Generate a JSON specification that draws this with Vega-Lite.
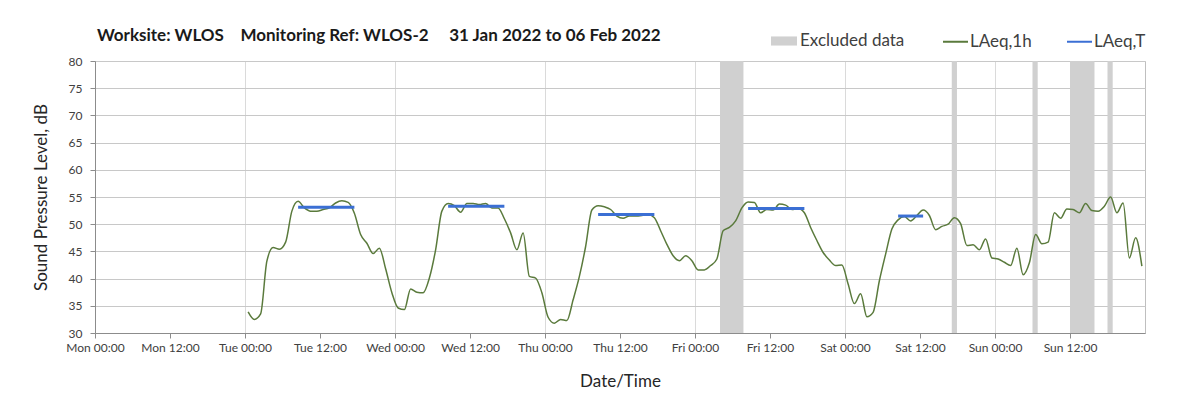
{
  "$schema": "https://vega.github.io/schema/vega-lite/v6.json",
  "width": 1050,
  "height": 272,
  "autosize": {"type": "none"},
  "padding": {"left": 95, "top": 61, "right": 58, "bottom": 72},
  "background": "white",
  "config": {"font": "Lato", "view": {"stroke": "#bfbfbf", "strokeWidth": 1}},
  "title": {
    "text": "Worksite: WLOS\u00a0\u00a0\u00a0\u00a0Monitoring Ref: WLOS-2\u00a0\u00a0\u00a0\u00a0\u00a031 Jan 2022 to 06 Feb 2022",
    "anchor": "start", "frame": "group", "fontSize": 17, "fontWeight": "bold", "font": "Lato", "color": "#1a1a1a", "offset": 14, "dx": 2, "dy": 31
  },
  "datasets": {
    "excluded": [
      {"start": "2022-02-04T04:00", "end": "2022-02-04T07:45"},
      {"start": "2022-02-05T17:05", "end": "2022-02-05T17:55"},
      {"start": "2022-02-06T06:00", "end": "2022-02-06T06:50"},
      {"start": "2022-02-06T12:00", "end": "2022-02-06T15:55"},
      {"start": "2022-02-06T18:00", "end": "2022-02-06T18:50"}
    ],
    "laeqT": [
      {"start": "2022-02-01T08:30", "end": "2022-02-01T17:30", "level": 53.1},
      {"start": "2022-02-02T08:30", "end": "2022-02-02T17:30", "level": 53.3},
      {"start": "2022-02-03T08:30", "end": "2022-02-03T17:30", "level": 51.8},
      {"start": "2022-02-04T08:30", "end": "2022-02-04T17:30", "level": 52.9},
      {"start": "2022-02-05T08:30", "end": "2022-02-05T12:30", "level": 51.5}
    ],
    "hourly": [
      {"t": "2022-02-01T00:30", "v": 33.9}, {"t": "2022-02-01T01:30", "v": 32.5}, {"t": "2022-02-01T02:30", "v": 33.5}, {"t": "2022-02-01T03:30", "v": 43.2},
      {"t": "2022-02-01T04:30", "v": 45.7}, {"t": "2022-02-01T05:30", "v": 45.4}, {"t": "2022-02-01T06:30", "v": 46.7}, {"t": "2022-02-01T07:30", "v": 52.4},
      {"t": "2022-02-01T08:30", "v": 54.2}, {"t": "2022-02-01T09:30", "v": 53.0}, {"t": "2022-02-01T10:30", "v": 52.4}, {"t": "2022-02-01T11:30", "v": 52.4},
      {"t": "2022-02-01T12:30", "v": 52.7}, {"t": "2022-02-01T13:30", "v": 53.0}, {"t": "2022-02-01T14:30", "v": 53.9}, {"t": "2022-02-01T15:30", "v": 54.3},
      {"t": "2022-02-01T16:30", "v": 54.0}, {"t": "2022-02-01T17:30", "v": 52.0}, {"t": "2022-02-01T18:30", "v": 48.1}, {"t": "2022-02-01T19:30", "v": 46.5},
      {"t": "2022-02-01T20:30", "v": 44.6}, {"t": "2022-02-01T21:30", "v": 45.6}, {"t": "2022-02-01T22:30", "v": 41.8}, {"t": "2022-02-01T23:30", "v": 37.4},
      {"t": "2022-02-02T00:30", "v": 34.6}, {"t": "2022-02-02T01:30", "v": 34.3}, {"t": "2022-02-02T02:30", "v": 38.1}, {"t": "2022-02-02T03:30", "v": 37.5},
      {"t": "2022-02-02T04:30", "v": 37.4}, {"t": "2022-02-02T05:30", "v": 40.1}, {"t": "2022-02-02T06:30", "v": 45.3}, {"t": "2022-02-02T07:30", "v": 52.4},
      {"t": "2022-02-02T08:30", "v": 53.8}, {"t": "2022-02-02T09:30", "v": 53.4}, {"t": "2022-02-02T10:30", "v": 52.2}, {"t": "2022-02-02T11:30", "v": 53.8},
      {"t": "2022-02-02T12:30", "v": 53.8}, {"t": "2022-02-02T13:30", "v": 53.6}, {"t": "2022-02-02T14:30", "v": 53.8}, {"t": "2022-02-02T15:30", "v": 53.0},
      {"t": "2022-02-02T16:30", "v": 53.0}, {"t": "2022-02-02T17:30", "v": 51.0}, {"t": "2022-02-02T18:30", "v": 48.4}, {"t": "2022-02-02T19:30", "v": 45.3},
      {"t": "2022-02-02T20:30", "v": 48.4}, {"t": "2022-02-02T21:30", "v": 40.4}, {"t": "2022-02-02T22:30", "v": 40.1}, {"t": "2022-02-02T23:30", "v": 37.4},
      {"t": "2022-02-03T00:30", "v": 32.9}, {"t": "2022-02-03T01:30", "v": 31.8}, {"t": "2022-02-03T02:30", "v": 32.5}, {"t": "2022-02-03T03:30", "v": 32.3},
      {"t": "2022-02-03T04:30", "v": 36.1}, {"t": "2022-02-03T05:30", "v": 40.4}, {"t": "2022-02-03T06:30", "v": 45.9}, {"t": "2022-02-03T07:30", "v": 52.6},
      {"t": "2022-02-03T08:30", "v": 53.4}, {"t": "2022-02-03T09:30", "v": 53.2}, {"t": "2022-02-03T10:30", "v": 52.7}, {"t": "2022-02-03T11:30", "v": 51.5},
      {"t": "2022-02-03T12:30", "v": 51.1}, {"t": "2022-02-03T13:30", "v": 51.5}, {"t": "2022-02-03T14:30", "v": 51.5}, {"t": "2022-02-03T15:30", "v": 51.6},
      {"t": "2022-02-03T16:30", "v": 51.8}, {"t": "2022-02-03T17:30", "v": 51.2}, {"t": "2022-02-03T18:30", "v": 48.8}, {"t": "2022-02-03T19:30", "v": 46.3},
      {"t": "2022-02-03T20:30", "v": 44.2}, {"t": "2022-02-03T21:30", "v": 43.3}, {"t": "2022-02-03T22:30", "v": 44.2}, {"t": "2022-02-03T23:30", "v": 43.3},
      {"t": "2022-02-04T00:30", "v": 41.6}, {"t": "2022-02-04T01:30", "v": 41.6}, {"t": "2022-02-04T02:30", "v": 42.4}, {"t": "2022-02-04T03:30", "v": 43.6},
      {"t": "2022-02-04T04:30", "v": 48.8}, {"t": "2022-02-04T05:30", "v": 49.4}, {"t": "2022-02-04T06:30", "v": 50.6}, {"t": "2022-02-04T07:30", "v": 53.0},
      {"t": "2022-02-04T08:30", "v": 54.1}, {"t": "2022-02-04T09:30", "v": 54.0}, {"t": "2022-02-04T10:30", "v": 52.1}, {"t": "2022-02-04T11:30", "v": 52.7},
      {"t": "2022-02-04T12:30", "v": 52.6}, {"t": "2022-02-04T13:30", "v": 53.7}, {"t": "2022-02-04T14:30", "v": 53.5}, {"t": "2022-02-04T15:30", "v": 52.7},
      {"t": "2022-02-04T16:30", "v": 52.9}, {"t": "2022-02-04T17:30", "v": 52.1}, {"t": "2022-02-04T18:30", "v": 49.4}, {"t": "2022-02-04T19:30", "v": 47.0},
      {"t": "2022-02-04T20:30", "v": 44.8}, {"t": "2022-02-04T21:30", "v": 43.4}, {"t": "2022-02-04T22:30", "v": 42.4}, {"t": "2022-02-04T23:30", "v": 42.5},
      {"t": "2022-02-05T00:30", "v": 39.0}, {"t": "2022-02-05T01:30", "v": 35.4}, {"t": "2022-02-05T02:30", "v": 37.2}, {"t": "2022-02-05T03:30", "v": 33.0},
      {"t": "2022-02-05T04:30", "v": 33.8}, {"t": "2022-02-05T05:30", "v": 39.6}, {"t": "2022-02-05T06:30", "v": 44.5}, {"t": "2022-02-05T07:30", "v": 49.1},
      {"t": "2022-02-05T08:30", "v": 50.8}, {"t": "2022-02-05T09:30", "v": 51.4}, {"t": "2022-02-05T10:30", "v": 50.6}, {"t": "2022-02-05T11:30", "v": 51.6},
      {"t": "2022-02-05T12:30", "v": 52.6}, {"t": "2022-02-05T13:30", "v": 51.6}, {"t": "2022-02-05T14:30", "v": 49.0}, {"t": "2022-02-05T15:30", "v": 49.6},
      {"t": "2022-02-05T16:30", "v": 50.0}, {"t": "2022-02-05T17:30", "v": 51.2}, {"t": "2022-02-05T18:30", "v": 50.1}, {"t": "2022-02-05T19:30", "v": 46.1},
      {"t": "2022-02-05T20:30", "v": 46.2}, {"t": "2022-02-05T21:30", "v": 45.3}, {"t": "2022-02-05T22:30", "v": 47.3}, {"t": "2022-02-05T23:30", "v": 43.8},
      {"t": "2022-02-06T00:30", "v": 43.6}, {"t": "2022-02-06T01:30", "v": 43.0}, {"t": "2022-02-06T02:30", "v": 42.4}, {"t": "2022-02-06T03:30", "v": 45.6},
      {"t": "2022-02-06T04:30", "v": 40.7}, {"t": "2022-02-06T05:30", "v": 42.9}, {"t": "2022-02-06T06:30", "v": 48.1}, {"t": "2022-02-06T07:30", "v": 46.4},
      {"t": "2022-02-06T08:30", "v": 46.7}, {"t": "2022-02-06T09:30", "v": 52.1}, {"t": "2022-02-06T10:30", "v": 51.1}, {"t": "2022-02-06T11:30", "v": 52.8},
      {"t": "2022-02-06T12:30", "v": 52.7}, {"t": "2022-02-06T13:30", "v": 52.1}, {"t": "2022-02-06T14:30", "v": 53.8}, {"t": "2022-02-06T15:30", "v": 52.5},
      {"t": "2022-02-06T16:30", "v": 52.4}, {"t": "2022-02-06T17:30", "v": 53.3}, {"t": "2022-02-06T18:30", "v": 55.0}, {"t": "2022-02-06T19:30", "v": 52.1},
      {"t": "2022-02-06T20:30", "v": 53.9}, {"t": "2022-02-06T21:30", "v": 43.8}, {"t": "2022-02-06T22:30", "v": 47.5}, {"t": "2022-02-06T23:30", "v": 42.3}
    ]
  },
  "layer": [
    {
      "data": {"name": "excluded"},
      "mark": {"type": "rect"},
      "encoding": {
        "x": {
          "field": "start", "type": "temporal",
          "scale": {"domain": [{"year": 2022, "month": 1, "date": 31, "hours": 0}, {"year": 2022, "month": 2, "date": 7, "hours": 0}], "nice": false},
          "axis": {
            "title": "Date/Time", "format": "%a %H:%M",
            "values": [
              {"year": 2022, "month": 1, "date": 31, "hours": 0}, {"year": 2022, "month": 1, "date": 31, "hours": 12},
              {"year": 2022, "month": 2, "date": 1, "hours": 0}, {"year": 2022, "month": 2, "date": 1, "hours": 12},
              {"year": 2022, "month": 2, "date": 2, "hours": 0}, {"year": 2022, "month": 2, "date": 2, "hours": 12},
              {"year": 2022, "month": 2, "date": 3, "hours": 0}, {"year": 2022, "month": 2, "date": 3, "hours": 12},
              {"year": 2022, "month": 2, "date": 4, "hours": 0}, {"year": 2022, "month": 2, "date": 4, "hours": 12},
              {"year": 2022, "month": 2, "date": 5, "hours": 0}, {"year": 2022, "month": 2, "date": 5, "hours": 12},
              {"year": 2022, "month": 2, "date": 6, "hours": 0}, {"year": 2022, "month": 2, "date": 6, "hours": 12}
            ],
            "labelFlush": false, "labelOverlap": false,
            "labelFontSize": 12, "labelColor": "#404040", "labelPadding": 4,
            "tickSize": 5, "tickColor": "#8c8c8c", "domainColor": "#8c8c8c",
            "gridColor": "#dadada",
            "gridOpacity": {"condition": {"test": "hours(datum.value) === 0", "value": 1}, "value": 0},
            "titleFontSize": 17, "titleFontWeight": "normal", "titleColor": "#262626", "titlePadding": 20
          }
        },
        "x2": {"field": "end"},
        "fill": {
          "datum": "Excluded data",
          "scale": {"domain": ["Excluded data"], "range": ["#d0d0d0"]},
          "legend": {
            "orient": "none", "legendX": 676, "legendY": -33, "direction": "horizontal",
            "title": null, "labelFontSize": 17, "labelFont": "Lato", "labelColor": "#404040",
            "symbolType": "M-1,-0.35H1V0.35H-1Z", "symbolSize": 676, "symbolStrokeWidth": 0, "labelOffset": 3
          }
        }
      }
    },
    {
      "data": {"name": "hourly"},
      "mark": {"type": "line", "strokeWidth": 1.5, "interpolate": "monotone"},
      "encoding": {
        "x": {"field": "t", "type": "temporal"},
        "y": {
          "field": "v", "type": "quantitative",
          "scale": {"domain": [30, 80], "nice": false, "zero": false},
          "axis": {
            "title": "Sound Pressure Level, dB", "values": [30, 35, 40, 45, 50, 55, 60, 65, 70, 75, 80],
            "labelFontSize": 12, "labelColor": "#404040", "labelPadding": 8,
            "tickSize": 5, "tickColor": "#8c8c8c", "domainColor": "#8c8c8c", "gridColor": "#c8c8c8",
            "titleFontSize": 17, "titleFontWeight": "normal", "titleColor": "#262626", "titlePadding": 18
          }
        },
        "color": {
          "datum": "LAeq,1h",
          "scale": {"domain": ["LAeq,1h", "LAeq,T"], "range": ["#5a7a3c", "#3b6fd4"]},
          "legend": {
            "orient": "none", "legendX": 847, "legendY": -33, "direction": "horizontal",
            "title": null, "labelFontSize": 17, "labelFont": "Lato", "labelColor": "#404040",
            "symbolType": "stroke", "symbolSize": 625, "symbolStrokeWidth": 2, "columnPadding": 31, "labelOffset": 1
          }
        }
      }
    },
    {
      "data": {"name": "laeqT"},
      "mark": {"type": "rule", "strokeWidth": 3},
      "encoding": {
        "x": {"field": "start", "type": "temporal"},
        "x2": {"field": "end"},
        "y": {
          "field": "level", "type": "quantitative",
          "axis": {
            "title": "Sound Pressure Level, dB", "values": [30, 35, 40, 45, 50, 55, 60, 65, 70, 75, 80],
            "labelFontSize": 12, "labelColor": "#404040", "labelPadding": 8,
            "tickSize": 5, "tickColor": "#8c8c8c", "domainColor": "#8c8c8c", "gridColor": "#c8c8c8",
            "titleFontSize": 17, "titleFontWeight": "normal", "titleColor": "#262626", "titlePadding": 18
          }
        },
        "color": {"datum": "LAeq,T"}
      }
    }
  ]
}
